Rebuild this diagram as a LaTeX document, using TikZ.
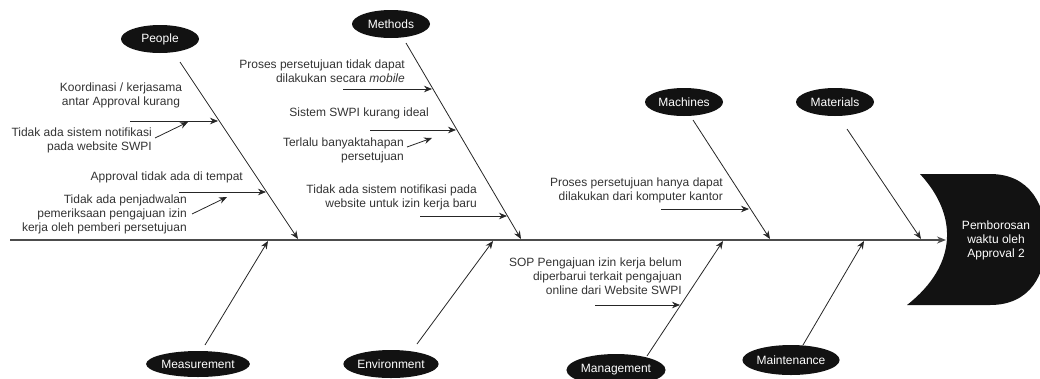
\documentclass[tikz,border=0pt]{standalone}
\usepackage{fontspec}
\setmainfont{Liberation Sans}
\usetikzlibrary{arrows.meta,shapes.geometric}
\begin{document}
\begin{tikzpicture}[x=1pt,y=-1pt,
  cat/.style={ellipse, fill=black!93, text=white, inner sep=0pt, minimum width=78pt, minimum height=28pt, font=\fontsize{12}{14}\selectfont},
  cause/.style={text=black!80, font=\fontsize{12}{14}\selectfont, inner sep=0pt, align=right},
  bone/.style={draw=black!85, line width=0.8pt, -{Stealth[length=8pt,width=6.5pt]}},
  spine/.style={draw=black!70, line width=1.4pt, -{Stealth[length=9pt,width=7pt]}},
  effecttext/.style={text=white, font=\fontsize{12}{14}\selectfont, align=center, inner sep=0pt}
]
\useasboundingbox (0,0) rectangle (1040,378);
\clip (0,0) rectangle (1040,378);

% effect head
\fill[black!93] (920,174) -- (990,174) .. controls (1030,174) and (1046,205) .. (1046,240)
  .. controls (1046,275) and (1030,305) .. (990,305) -- (907,305)
  .. controls (958,265) and (958,215) .. (920,174);
\node[effecttext] (effect) at (996,240) {Pemborosan\\waktu oleh\\Approval 2};

% spine
\coordinate (s0) at (10,240);
\coordinate (s1) at (946,240);
\draw[spine] (s0) -- (s1);

% categories
\node[cat] (people) at (160,39) {People};
\node[cat] (methods) at (391,24) {Methods};
\node[cat] (machines) at (684,102) {Machines};
\node[cat] (materials) at (835,102) {Materials};
\node[cat, minimum width=98pt, minimum height=26pt] (measurement) at (198,364) {Measurement};
\node[cat] (environment) at (391,364) {Environment};
\node[cat, minimum height=32pt] (management) at (616,370) {Management};
\node[cat, minimum width=76pt, minimum height=30pt] (maintenance) at (791,360) {Maintenance};

% bone end points
\coordinate (pA) at (180,62);   \coordinate (pB) at (298,239);
\coordinate (mA) at (406,43);   \coordinate (mB) at (521,239);
\coordinate (maA) at (693,120); \coordinate (maB) at (770,239);
\coordinate (mtA) at (847,129); \coordinate (mtB) at (921,239);
\coordinate (meA) at (205,345); \coordinate (meB) at (268,241);
\coordinate (enA) at (417,344); \coordinate (enB) at (493,241);
\coordinate (mgA) at (647,356); \coordinate (mgB) at (723,241);
\coordinate (mnA) at (803,345); \coordinate (mnB) at (864,241);

\draw[bone] (pA) -- (pB);
\draw[bone] (mA) -- (mB);
\draw[bone] (maA) -- (maB);
\draw[bone] (mtA) -- (mtB);
\draw[bone] (meA) -- (meB);
\draw[bone] (enA) -- (enB);
\draw[bone] (mgA) -- (mgB);
\draw[bone] (mnA) -- (mnB);

% People causes
\node[cause, align=center] (p1) at (121,95) {Koordinasi / kerjasama\\antar Approval kurang};
\node[cause, anchor=east] (p2) at (152,140) {Tidak ada sistem notifikasi\\pada website SWPI};
\node[cause, anchor=east] (p3) at (243,177) {Approval tidak ada di tempat};
\node[cause, anchor=east] (p4) at (187,214) {Tidak ada penjadwalan\\pemeriksaan pengajuan izin\\kerja oleh pemberi persetujuan};
\coordinate (p1a) at (130,121); \coordinate (p1b) at (218,121);
\coordinate (p2b) at (188,122);
\coordinate (p3a) at (179,192); \coordinate (p3b) at (266,192);
\coordinate (p4b) at (227,197);
\draw[bone] (p1a) -- (p1b);
\draw[bone] (p2.east) ++(3,-2) coordinate (p2s) (p2s) -- (p2b);
\draw[bone] (p3a) -- (p3b);
\draw[bone] (p4.east) ++(5,0) coordinate (p4s) (p4s) -- (p4b);

% Methods causes
\node[cause, anchor=east] (m1) at (405,71) {Proses persetujuan tidak dapat\\dilakukan secara \textit{mobile}};
\node[cause, anchor=east] (m2) at (429,113) {Sistem SWPI kurang ideal};
\node[cause, anchor=east] (m3) at (404,150) {Terlalu banyaktahapan\\persetujuan};
\node[cause, anchor=east] (m4) at (477,197) {Tidak ada sistem notifikasi pada\\website untuk izin kerja baru};
\coordinate (m1a) at (343,89);  \coordinate (m1b) at (432,89);
\coordinate (m2a) at (370,130); \coordinate (m2b) at (456,130);
\coordinate (m3b) at (432,138);
\coordinate (m4a) at (420,216); \coordinate (m4b) at (507,216);
\draw[bone] (m1a) -- (m1b);
\draw[bone] (m2a) -- (m2b);
\draw[bone] (m3.east) ++(3,-3) coordinate (m3s) (m3s) -- (m3b);
\draw[bone] (m4a) -- (m4b);

% Machines cause
\node[cause, anchor=east] (ma1) at (723,190) {Proses persetujuan hanya dapat\\dilakukan dari komputer kantor};
\coordinate (ma1a) at (661,209); \coordinate (ma1b) at (749,209);
\draw[bone] (ma1a) -- (ma1b);

% Management cause
\node[cause, anchor=east] (mg1) at (682,276) {SOP Pengajuan izin kerja belum\\diperbarui terkait pengajuan\\online dari Website SWPI};
\coordinate (mg1a) at (595,305); \coordinate (mg1b) at (680,305);
\draw[bone] (mg1a) -- (mg1b);
\end{tikzpicture}
\end{document}
